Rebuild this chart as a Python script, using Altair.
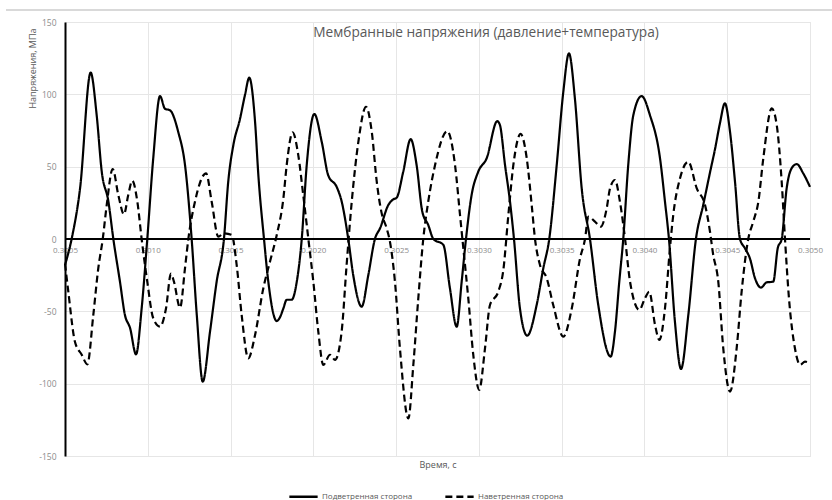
import altair as alt
import pandas as pd

TITLE = "Мембранные напряжения (давление+температура)"
Y_TITLE = "Напряжения, МПа"
X_TITLE = "Время, с"
SERIES = ["Подветренная сторона", "Наветренная сторона"]
X_TICKS = [0.3005, 0.3010, 0.3015, 0.3020, 0.3025, 0.3030, 0.3035, 0.3040, 0.3045, 0.3050]
Y_TICKS = [-150, -100, -50, 0, 50, 100, 150]

# Подветренная сторона (solid)
lee_t = [0.300500, 0.300540, 0.300591, 0.300655, 0.300691, 0.300722, 0.300762, 0.300792,
         0.300832, 0.300862, 0.300893, 0.300929, 0.300963, 0.300997, 0.301033, 0.301074,
         0.301104, 0.301134, 0.301184, 0.301225, 0.301265, 0.301296, 0.301332, 0.301376,
         0.301416, 0.301460, 0.301486, 0.301517, 0.301557, 0.301587, 0.301613, 0.301648,
         0.301668, 0.301702, 0.301728, 0.301779, 0.301799, 0.301819, 0.301839, 0.301869,
         0.301900, 0.301930, 0.301960, 0.302006, 0.302051, 0.302090, 0.302141, 0.302171,
         0.302211, 0.302241, 0.302292, 0.302332, 0.302372, 0.302403, 0.302453, 0.302483,
         0.302503, 0.302543, 0.302588, 0.302624, 0.302658, 0.302694, 0.302725, 0.302785,
         0.302825, 0.302866, 0.302896, 0.302922, 0.302956, 0.302996, 0.303047, 0.303111,
         0.303127, 0.303158, 0.303188, 0.303212, 0.303248, 0.303292, 0.303349, 0.303389,
         0.303425, 0.303470, 0.303510, 0.303544, 0.303580, 0.303621, 0.303671, 0.303721,
         0.303796, 0.303822, 0.303848, 0.303872, 0.303902, 0.303933, 0.303983, 0.304033,
         0.304094, 0.304124, 0.304148, 0.304184, 0.304221, 0.304265, 0.304311, 0.304355,
         0.304396, 0.304426, 0.304456, 0.304486, 0.304517, 0.304547, 0.304577, 0.304607,
         0.304637, 0.304668, 0.304704, 0.304738, 0.304778, 0.304805, 0.304829, 0.304859,
         0.304889, 0.304920, 0.304959, 0.305000]
lee_v = [-18, 0, 35, 115, 86, 46.5, 26, 0,
         -29.5, -52.5, -61.5, -79.7, -48, 0, 55.8, 98.8,
         90, 89, 74, 51, 0, -52.5, -98.6, -64,
         -29.5, 0, 39.6, 65, 83, 99.5, 111.5, 81,
         44, 0, -29.5, -56.7, -54, -48, -42, -42,
         -29.5, 0, 51, 86.4, 67, 44, 36, 26,
         0, -25, -46.8, -25, 0, 7.4, 23.5, 27.4,
         28.5, 46.5, 69, 51, 19, 9.7, 0, -4,
         -34, -60.6, -29.5, 0, 30.4, 46.5, 55.8, 81.5,
         78.8, 51, 25.8, 0, -48, -66.8, -45.6, -20.3,
         0, 51, 101.8, 128.3, 97, 35, 0, -45.6,
         -81.3, -64, -29.5, 0, 51, 85.7, 98.8, 85.7,
         55.8, 25.8, 0, -57, -89.8, -52.5, 0, 23.5,
         46, 62, 80, 93.8, 74, 39.6, 0, -6.4,
         -13.4, -27.2, -33.6, -30, -29.5, -6.4, 0, 35,
         48.9, 51.8, 45.4, 36]

# Наветренная сторона (dashed)
wind_t = [0.300500, 0.300520, 0.300560, 0.300601, 0.300635, 0.300671, 0.300701, 0.300728,
          0.300752, 0.300788, 0.300822, 0.300856, 0.300882, 0.300906, 0.300937, 0.300963,
          0.300997, 0.301033, 0.301074, 0.301110, 0.301140, 0.301158, 0.301195, 0.301225,
          0.301245, 0.301285, 0.301352, 0.301386, 0.301426, 0.301460, 0.301507, 0.301537,
          0.301567, 0.301607, 0.301648, 0.301698, 0.301738, 0.301779, 0.301819, 0.301839,
          0.301875, 0.301909, 0.301939, 0.301970, 0.302000, 0.302030, 0.302060, 0.302101,
          0.302131, 0.302171, 0.302201, 0.302232, 0.302272, 0.302318, 0.302353, 0.302383,
          0.302413, 0.302443, 0.302463, 0.302493, 0.302523, 0.302574, 0.302604, 0.302634,
          0.302664, 0.302694, 0.302735, 0.302809, 0.302856, 0.302886, 0.302906, 0.302936,
          0.302966, 0.303002, 0.303037, 0.303067, 0.303117, 0.303147, 0.303178, 0.303208,
          0.303252, 0.303289, 0.303319, 0.303339, 0.303369, 0.303410, 0.303449, 0.303510,
          0.303561, 0.303611, 0.303641, 0.303661, 0.303701, 0.303736, 0.303772, 0.303792,
          0.303822, 0.303852, 0.303883, 0.303913, 0.303969, 0.304003, 0.304029, 0.304064,
          0.304090, 0.304124, 0.304154, 0.304174, 0.304215, 0.304265, 0.304316, 0.304366,
          0.304396, 0.304414, 0.304446, 0.304476, 0.304517, 0.304557, 0.304587, 0.304627,
          0.304657, 0.304688, 0.304718, 0.304769, 0.304799, 0.304829, 0.304849, 0.304873,
          0.304909, 0.304940, 0.304970, 0.305000]
wind_v = [-17, -36.4, -71, -80, -86.6, -52.5, -20.3, 0,
          23.5, 48.4, 30.4, 17, 30.4, 40.3, 25.8, 0,
          -29.5, -54.8, -60.6, -48, -24, -29.5, -47.5, -20,
          0, 25.8, 45.4, 25.8, 1.6, 3.9, 2.8, -18,
          -52.5, -82.5, -66.3, -34, -15.7, 2.8, 28, 51,
          73.7, 58, 30.4, 0, -29.5, -64, -87, -80,
          -83.6, -64, -18, 25.8, 67.2, 91.4, 74, 39.6,
          17.7, 7.4, -2, -29.5, -75.5, -124, -87, -41,
          0, 25.8, 51, 74.6, 51, 16.6, -6.4, -41,
          -80, -104.3, -75.5, -45.6, -36.4, -22, 16.6, 51,
          72.6, 55.8, 23.5, 0, -18, -27.2, -45.6, -67.5,
          -48, -13.4, 0, 15.4, 12, 8.5, 21.2, 35,
          40.8, 25.8, 0, -29.5, -49, -41, -36.4, -59.4,
          -69.8, -48, -6.4, 16.6, 42, 53.4, 35, 23.5,
          5, -10, -29.5, -75.5, -105.5, -75.5, -36.4, 0,
          12, 25.8, 55.8, 90.3, 78.8, 39.6, 0, -41,
          -75.5, -87, -84.8, -86]

df = pd.concat([
    pd.DataFrame({"t": lee_t, "v": lee_v, "series": SERIES[0]}),
    pd.DataFrame({"t": wind_t, "v": wind_v, "series": SERIES[1]}),
], ignore_index=True)

FONT = "Open Sans"
GRAY_TXT = "#595959"
GRAY_LBL = "#8c8c8c"
GRID = "#e6e6e6"

xscale = alt.Scale(domain=[0.3005, 0.3050], nice=False, zero=False)
yscale = alt.Scale(domain=[-150, 150], nice=False)

lines = alt.Chart(df).mark_line(color="black", strokeWidth=2.2, interpolate="monotone").encode(
    x=alt.X("t:Q", scale=xscale,
            axis=alt.Axis(orient="bottom", values=X_TICKS, grid=True, gridColor=GRID, labels=False,
                          ticks=False, domain=False, title=X_TITLE, titleFontSize=9,
                          titleFontWeight="normal", titleColor=GRAY_TXT, titlePadding=4,
                          titleFont=FONT)),
    y=alt.Y("v:Q", scale=yscale,
            axis=alt.Axis(values=Y_TICKS, grid=True, gridColor=GRID, ticks=False,
                          domainColor="black", domainWidth=2,
                          labelExpr="'' + datum.value", labelColor=GRAY_LBL, labelFontSize=8.5,
                          labelPadding=9, labelFont=FONT,
                          title=Y_TITLE, titleFontSize=9, titleFontWeight="normal", titleColor=GRAY_TXT,
                          titleFont=FONT, titleAngle=270, titleAlign="right", titleBaseline="middle",
                          titleX=-33, titleY=6)),
    strokeDash=alt.StrokeDash(
        "series:N",
        scale=alt.Scale(domain=SERIES, range=[[1, 0], [7, 4]]),
        legend=alt.Legend(orient="none", legendX=223, legendY=459, direction="horizontal", title=None,
                          symbolType="stroke", symbolSize=800, symbolStrokeWidth=2.5,
                          symbolStrokeColor="black", labelFontSize=8, labelColor=GRAY_TXT,
                          labelFont=FONT, labelOffset=3, columnPadding=27, padding=0),
    ),
)

zero = alt.Chart(pd.DataFrame({"z": [0]})).mark_rule(color="black", strokeWidth=2).encode(
    x=alt.XDatum(0.3005, type="quantitative", scale=xscale,
                 axis=alt.Axis(orient="bottom", values=X_TICKS, offset=-217, grid=False, ticks=False,
                               domain=False, labelExpr="format(datum.value, '.4f')",
                               labelColor=GRAY_LBL, labelFontSize=8, labelFont=FONT, labelPadding=7,
                               labelFlush=False, labelOverlap=False, title=None)),
    x2=alt.X2Datum(0.3050),
    y=alt.YDatum(0, type="quantitative"),
)

title = alt.Chart(pd.DataFrame({"txt": [TITLE]})).mark_text(
    font=FONT, fontSize=13.7, color=GRAY_TXT, align="center", baseline="middle"
).encode(x=alt.value(421), y=alt.value(11), text="txt:N")

border = alt.Chart(pd.DataFrame({"z": [0]})).mark_rule(color="#d9d9d9", strokeWidth=2).encode(
    x=alt.value(-59), x2=alt.value(767), y=alt.value(-12)
)

chart = alt.layer(lines, zero, title, border).resolve_axis(x="independent").properties(
    width=745, height=434,
    padding={"left": 65, "top": 22, "right": 22, "bottom": 44},
    autosize=alt.AutoSizeParams(type="none"),
    background="white",
).configure_view(stroke=None).configure(font=FONT)

chart.save("out.html", embed_options={"renderer": "svg", "actions": False})
